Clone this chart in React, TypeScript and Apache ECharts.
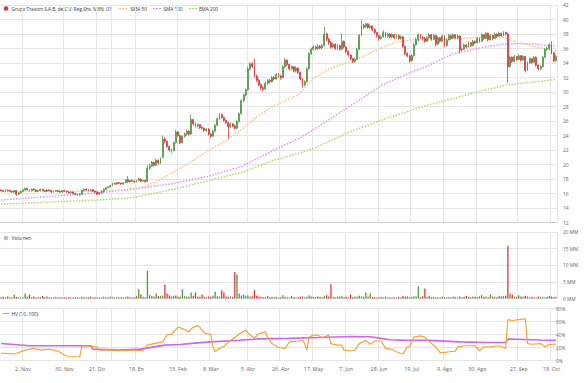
import React, { useEffect, useRef } from "react";
import * as echarts from "echarts";

// ---------- categories (trading days) ----------
const HOLIDAYS = ["2020-11-16", "2020-12-25", "2021-01-01", "2021-02-01", "2021-03-15", "2021-04-01", "2021-04-02", "2021-09-16"];
function buildDays(): string[] {
  const out: string[] = [];
  const d = new Date(Date.UTC(2020, 9, 19));
  const end = Date.UTC(2021, 9, 20);
  while (d.getTime() <= end) {
    const wd = d.getUTCDay();
    const s = d.toISOString().slice(0, 10);
    if (wd !== 0 && wd !== 6 && HOLIDAYS.indexOf(s) < 0) out.push(s);
    d.setUTCDate(d.getUTCDate() + 1);
  }
  return out;
}
const DAYS = buildDays();

const TICK_DATES = ["2020-11-02", "2020-11-30", "2020-12-21", "2021-01-18", "2021-02-15", "2021-03-08", "2021-04-05", "2021-04-26", "2021-05-17", "2021-06-07", "2021-06-28", "2021-07-19", "2021-08-09", "2021-08-30", "2021-09-27", "2021-10-18"];
const TICK_LABELS = ["2. Nov", "30. Nov", "21. Dic", "18. En", "15. Feb", "8. Mar", "5. Abr", "26. Abr", "17. May", "7. Jun", "28. Jun", "19. Jul", "9. Ago", "30. Ago", "27. Sep", "18. Oct"];
const EXTRA_LINES = ["2020-12-31"];

// ---------- price [open, close, low, high] ----------
const OHLC: number[][] = [
  [16.5,16.4,16.3,16.6],[16.4,16.3,16.2,16.5],[16.3,16.5,16.2,16.6],[16.5,16.4,16.3,16.6],[16.4,16.3,16.2,16.5],
  [16.3,16.2,16.1,16.4],[16.2,16.4,16.1,16.5],[16.4,15.9,15.7,16.4],[15.9,16.1,15.8,16.2],[16.1,16.3,16.0,16.4],
  [16.3,16.5,16.2,16.6],[16.5,16.7,16.4,16.8],[16.7,16.5,16.4,16.8],[16.5,16.4,16.3,16.6],[16.4,16.6,16.3,16.7],
  [16.6,16.5,16.4,16.7],[16.5,16.3,16.2,16.6],[16.3,16.4,16.2,16.5],[16.4,16.6,16.3,16.7],[16.6,16.4,16.3,16.6],
  [16.4,16.3,16.2,16.5],[16.3,16.5,16.2,16.6],[16.5,16.4,16.3,16.6],[16.4,16.2,16.1,16.5],[16.2,16.3,16.1,16.4],
  [16.3,16.4,16.2,16.5],[16.4,16.3,16.2,16.5],[16.3,16.2,16.1,16.4],[16.2,16.4,16.1,16.5],[16.4,16.3,16.2,16.5],
  [16.3,16.2,16.1,16.4],[16.2,16.1,16.0,16.3],[16.1,16.2,16.0,16.3],[16.2,16.0,15.9,16.3],[16.0,15.9,15.8,16.1],
  [15.9,15.8,15.7,16.0],[15.8,15.9,15.7,16.0],[15.9,16.4,15.9,16.5],[16.4,16.6,16.3,16.7],[16.6,16.5,16.4,16.7],
  [16.5,16.4,16.3,16.6],[16.4,16.5,16.3,16.6],[16.5,16.3,16.2,16.6],[16.3,16.2,16.1,16.4],[16.2,15.9,15.8,16.3],
  [15.9,16.1,15.8,16.2],[16.1,16.3,16.0,16.4],[16.3,16.6,16.2,16.7],[16.6,16.8,16.5,16.9],[16.8,16.9,16.7,17.0],
  [16.9,17.1,16.8,17.2],[17.1,17.4,17.0,17.5],[17.4,17.3,17.2,17.5],[17.3,17.5,17.2,17.6],[17.5,17.4,17.3,17.6],
  [17.4,17.3,17.2,17.5],[17.3,17.5,17.2,17.6],[17.5,17.9,17.4,18.0],[17.9,17.6,17.5,18.4],[17.6,17.8,17.5,17.9],
  [17.8,17.7,17.6,17.9],[17.7,17.6,17.5,17.8],[17.6,17.8,17.5,17.9],[17.8,18.0,17.7,18.2],[18.0,17.7,17.6,18.1],
  [17.7,17.8,17.6,17.9],[17.8,17.6,17.5,17.9],[17.7,19.5,17.6,19.9],[19.5,19.8,19.3,20.1],[19.8,20.3,19.7,20.5],
  [20.3,19.9,19.7,20.4],[19.9,20.6,19.8,20.8],[20.6,20.2,20.0,20.7],[20.2,20.8,20.1,21.0],[21.0,23.5,20.9,24.0],
  [23.5,23.2,22.9,23.8],[23.2,22.5,22.3,23.3],[22.5,22.0,21.8,22.6],[22.0,21.9,21.6,22.2],[21.9,23.0,21.8,23.2],
  [23.0,24.5,22.9,24.8],[24.5,24.0,23.8,24.6],[24.0,23.0,22.8,24.1],[23.0,23.9,22.9,24.0],[23.9,24.2,23.7,24.4],
  [24.2,24.6,24.0,24.8],[24.6,24.2,24.0,24.7],[24.2,26.2,24.1,26.9],[26.2,25.6,25.4,26.3],[25.6,25.3,25.1,25.8],
  [25.3,25.5,25.1,25.7],[25.5,25.1,24.9,25.6],[25.1,25.0,24.8,25.3],[25.0,24.7,24.5,25.1],[24.7,24.9,24.5,25.0],
  [24.9,24.2,24.0,25.0],[24.2,23.9,23.6,24.3],[23.9,24.6,23.8,24.8],[24.6,25.4,24.5,25.6],[25.4,26.3,25.3,26.5],
  [26.3,26.9,26.1,27.1],[26.9,26.5,26.3,27.0],[26.5,26.1,25.9,26.6],[26.1,25.8,25.6,26.2],[25.8,25.2,23.6,25.9],
  [25.2,25.6,25.0,25.8],[25.6,25.3,25.1,25.7],[25.3,25.0,24.8,25.5],[25.0,25.9,24.9,26.1],[25.9,27.0,25.8,27.2],
  [27.0,28.8,26.9,29.0],[28.8,29.6,28.6,29.8],[29.6,30.3,29.4,30.5],[30.3,33.2,30.2,33.5],[33.2,33.9,33.0,34.1],
  [33.9,33.5,33.3,34.1],[33.5,32.2,32.0,34.6],[32.2,31.6,31.4,32.4],[31.6,31.0,30.8,31.8],[31.0,30.6,30.3,31.2],
  [30.6,30.4,30.1,30.8],[30.4,31.2,30.3,31.4],[31.2,31.6,31.0,31.8],[31.6,31.4,31.2,31.8],[31.4,32.0,31.3,32.2],
  [32.0,31.8,31.6,32.2],[31.8,32.4,31.7,32.6],[32.4,32.2,32.0,32.6],[32.2,32.0,31.7,32.4],[32.0,33.5,31.9,33.7],
  [33.5,34.4,33.3,34.7],[34.4,33.8,33.6,34.5],[33.8,33.2,33.0,33.9],[33.2,33.5,33.0,33.7],[33.5,32.9,32.7,33.6],
  [32.9,33.3,32.7,33.5],[33.3,32.7,32.5,33.4],[32.7,31.8,31.6,32.8],[31.8,31.0,30.6,31.9],[31.0,31.4,30.8,31.6],
  [31.4,33.2,31.3,33.4],[33.2,35.3,33.1,35.5],[35.3,35.9,35.1,36.1],[35.9,36.2,35.7,36.5],[36.2,36.0,35.8,36.4],
  [36.0,36.3,35.8,36.6],[36.3,36.1,35.9,36.5],[36.1,36.4,35.9,36.6],[36.4,38.0,36.3,39.0],[38.0,37.3,37.0,38.2],
  [37.3,36.8,36.5,37.5],[36.8,36.2,36.0,37.0],[36.2,36.6,36.0,36.8],[36.6,36.0,35.8,36.7],[36.0,36.4,35.8,36.6],
  [36.4,35.9,35.7,36.5],[35.9,37.0,35.8,38.1],[37.0,36.2,36.0,37.1],[36.2,35.6,35.4,36.3],[35.6,35.1,34.9,35.7],
  [35.1,34.6,34.4,35.2],[34.6,34.2,34.0,34.7],[34.2,34.5,34.0,34.7],[34.5,35.9,34.4,36.1],[35.9,37.8,35.8,38.0],
  [37.8,39.2,37.7,39.9],[39.2,39.0,38.7,39.4],[39.0,39.4,38.8,39.6],[39.4,38.9,38.7,39.5],[38.9,39.1,38.7,39.3],
  [39.1,38.6,38.4,39.2],[38.6,38.2,38.0,38.8],[38.2,37.8,37.5,38.3],[37.8,37.4,37.1,37.9],[37.4,37.6,37.2,37.8],
  [37.6,38.2,37.5,38.5],[38.2,37.7,37.5,38.3],[37.7,38.0,37.5,38.2],[38.0,37.6,37.4,38.1],[37.6,37.9,37.4,38.1],
  [37.9,37.5,37.3,38.0],[37.5,37.8,37.3,38.0],[37.8,37.4,37.2,37.9],[37.4,37.6,37.2,37.8],[37.6,36.3,36.1,37.7],
  [36.3,35.3,35.1,36.4],[35.3,35.0,34.8,35.5],[35.0,34.3,34.0,35.1],[34.3,35.0,34.2,35.2],[35.0,36.5,34.9,36.7],
  [36.5,37.2,36.4,37.5],[37.2,37.9,37.0,38.1],[37.9,37.5,37.3,38.0],[37.5,37.4,37.1,37.7],[37.4,37.0,36.8,37.6],
  [37.0,37.5,36.9,37.7],[37.5,37.9,37.3,38.1],[37.9,37.3,37.1,38.0],[37.3,37.8,37.2,38.0],[37.8,36.6,36.3,37.9],
  [36.6,37.5,36.5,37.7],[37.5,37.0,36.8,37.6],[37.0,37.7,36.9,37.9],[37.7,36.4,36.2,37.8],[36.4,37.2,36.3,37.4],
  [37.2,37.8,37.1,38.0],[37.8,37.4,37.2,37.9],[37.4,37.9,37.3,38.1],[37.9,37.5,37.3,38.0],[37.5,37.7,37.3,37.9],
  [37.7,35.8,35.3,37.8],[35.8,35.9,35.6,36.1],[35.9,36.5,35.8,36.7],[36.5,36.2,36.0,36.6],[36.2,36.8,36.1,37.0],
  [36.8,36.4,36.2,36.9],[36.4,37.0,36.3,37.2],[37.0,36.8,36.6,37.1],[36.8,37.4,36.7,37.6],[37.4,37.0,36.8,37.5],
  [37.0,37.9,36.9,38.1],[37.9,37.4,37.2,38.0],[37.4,38.1,37.3,38.3],[38.1,37.2,37.0,38.2],[37.2,37.8,37.1,38.0],
  [37.8,37.4,37.2,37.9],[37.4,38.0,37.3,38.2],[38.0,37.7,37.5,38.1],[37.7,38.1,37.6,38.3],[38.1,37.8,37.6,38.2],
  [37.8,38.2,37.7,38.4],[38.2,38.0,37.8,38.3],[38.0,33.5,31.2,38.2],[33.5,34.8,33.4,35.0],[34.8,34.2,34.0,34.9],
  [34.2,34.9,34.1,35.1],[34.9,34.5,34.3,35.0],[34.5,35.0,34.4,35.2],[35.0,34.4,34.2,35.1],[34.4,34.9,34.3,35.1],
  [34.9,33.0,32.7,35.0],[33.0,34.0,32.9,34.2],[34.0,34.6,33.9,34.8],[34.6,34.1,33.9,34.7],[34.1,34.8,34.0,35.0],
  [34.8,33.7,33.5,34.9],[33.7,33.2,33.0,33.8],[33.2,33.5,33.0,33.7],[33.5,34.8,33.4,35.0],[34.8,35.9,34.7,36.1],
  [35.9,36.0,35.7,36.3],[36.0,36.5,35.8,36.7],[36.5,35.4,35.2,37.0],[35.4,34.3,34.1,35.5],[34.3,34.9,34.2,35.1],
];

// ---------- volume (millions) ----------
const VOLUME: number[] = [
  0.4,0.5,0.3,0.6,0.4,0.3,1.2,0.5,0.4,0.3,
  0.4,1.5,0.5,1.2,0.4,0.6,0.3,0.4,0.5,0.8,
  0.4,0.6,0.3,0.4,0.3,0.5,0.3,0.4,0.3,0.4,
  0.3,0.4,0.3,0.3,0.4,0.3,0.3,0.6,0.4,0.3,
  0.4,0.6,0.3,0.4,0.3,0.4,0.3,0.5,0.3,0.4,
  0.5,0.4,0.3,0.4,0.3,0.4,0.3,0.5,0.6,0.4,
  0.3,0.4,0.8,2.8,1.2,0.5,0.4,8.3,1.0,0.8,
  0.6,1.5,0.7,0.8,0.9,4.2,1.5,1.0,0.6,0.8,
  0.9,0.6,0.5,2.8,0.7,0.6,0.5,1.8,0.8,1.8,
  0.6,0.5,1.2,0.5,0.4,0.6,0.5,0.8,2.0,0.7,
  0.6,2.5,1.8,0.6,0.5,0.6,0.5,8.0,7.2,1.5,
  0.9,1.2,0.8,0.9,0.6,0.7,2.5,0.8,0.6,0.5,
  0.4,0.5,0.8,0.4,0.5,0.4,0.5,0.3,0.4,1.0,
  0.5,0.4,0.3,0.8,0.4,0.3,0.4,0.5,0.6,0.4,
  0.5,1.0,0.6,0.5,0.4,0.6,0.5,0.4,0.7,1.0,
  0.6,4.3,0.5,0.4,0.6,0.5,0.8,0.4,0.5,0.3,
  1.2,0.4,0.5,0.6,0.8,0.6,0.5,1.8,0.6,1.5,
  0.5,0.4,0.3,0.4,0.5,0.4,0.5,0.3,0.4,0.3,
  0.4,0.3,0.5,0.4,0.8,0.5,0.6,0.4,0.5,0.7,
  0.6,3.7,0.5,0.6,3.0,0.5,0.8,0.4,0.5,0.3,
  0.4,0.3,0.5,0.4,0.3,0.4,0.3,0.5,0.4,0.3,
  0.6,0.4,0.5,0.8,0.5,0.4,0.6,0.5,0.4,0.6,
  1.0,0.5,0.6,0.4,1.2,0.6,0.5,0.4,0.8,0.6,
  0.7,0.8,15.8,1.5,1.2,0.6,0.5,1.0,0.6,0.5,
  0.8,0.6,0.4,0.5,0.4,0.3,0.6,0.4,0.5,0.4,
  0.5,0.8,0.6,0.4,0.5,
];

// ---------- moving averages [dayIndex, value] ----------
const SMA50: number[][] = [[0,16.25],[20,16.3],[45,16.3],[61,16.7],[64,16.8],[71,17.6],[79,19.0],[87,20.4],[94,21.8],[102,23.1],[110,24.8],[117,26.6],[125,28.1],[128,28.5],[136,29.6],[143,31.9],[151,33.3],[158,34.0],[166,34.9],[174,36.1],[181,36.9],[189,37.2],[194,37.2],[207,37.3],[222,37.6],[230,37.5],[238,36.7],[245,36.25],[254,35.6]];
const SMA100: number[][] = [[0,15.1],[45,16.1],[61,16.6],[79,17.4],[94,18.3],[110,19.7],[117,20.8],[125,22.0],[128,22.4],[137,23.7],[143,24.8],[158,27.7],[174,30.9],[189,32.9],[194,33.4],[207,35.3],[222,36.25],[230,36.6],[238,36.7],[245,36.6],[254,36.3]];
const EMA200: number[][] = [[0,14.55],[45,15.1],[61,15.45],[79,16.6],[94,17.7],[110,18.9],[125,20.6],[137,21.6],[143,22.2],[158,24.3],[174,26.1],[194,28.1],[207,29.1],[222,30.3],[232,31.0],[245,31.4],[254,31.75]];

// ---------- historical volatility [dayIndex, %] ----------
const HV10: number[][] = [[0,11],[2,11],[6,10],[11,16],[15,18.6],[18,16],[22,17.5],[26,14.5],[29,8.4],[31,5.8],[36,5.8],[37,22],[41,22],[44,21],[45,16],[49,16],[54,15],[61,16],[65,15],[67,23.6],[70,26],[74,28.7],[76,40],[78,40],[81,51.5],[83,49],[86,44],[87,49],[90,54],[91,51],[93,42],[96,40],[97,21],[98,13.5],[100,18.7],[102,22],[105,31],[107,35],[109,41],[112,46.5],[114,39],[116,35],[118,41],[121,44],[122,36],[124,26],[127,20],[130,18.6],[132,28.7],[136,29.6],[138,31],[139,26],[140,16],[141,36],[143,39],[145,39],[147,35],[150,39],[151,26],[154,23.6],[156,23.6],[157,16],[160,15],[162,16],[164,26],[167,31],[169,25],[171,30],[174,30],[176,18.6],[179,17],[181,13.5],[183,10.8],[184,10],[186,21],[187,21],[189,36],[192,38],[194,36],[196,28.7],[199,21],[201,12],[203,12],[205,13.5],[208,14.5],[209,21],[212,22.7],[217,22.7],[219,15],[221,21],[224,21],[228,22.7],[231,18.6],[232,63],[234,61.5],[237,63],[240,64],[241,26],[243,25],[247,26],[249,21],[251,24.6],[254,25]];
const HV100: number[][] = [[0,26.2],[13,22.6],[41,22.6],[42,17.5],[54,16],[64,17.5],[70,21],[75,23.6],[82,24.6],[86,26],[96,28.7],[109,31.2],[118,33.2],[132,34],[146,35.3],[160,37],[169,36.5],[174,34],[178,32],[185,31],[196,31],[210,28.7],[222,27.6],[231,27.6],[232,33],[247,31.5],[254,31]];

const VOL_TICKS = [0, 5, 10, 15, 20];

const UP = "#4f9a48";
const DOWN = "#e3343b";
const GRID = "#e6e6e6";
const FONT = "Open Sans";
const C_SMA50 = "#fcc487";
const C_SMA100 = "#e495f6";
const C_EMA200 = "#a9db74";

export default function App() {
  const ref = useRef<HTMLDivElement>(null);
  useEffect(() => {
    if (!ref.current) return;
    const chart = echarts.init(ref.current, undefined, { renderer: "svg" });
    const tickSet = new Set(TICK_DATES);
    const lineSet = new Set([...TICK_DATES, ...EXTRA_LINES]);
    const xAxis = (gridIndex: number, labels: boolean, axisLine: boolean) => ({
      type: "category",
      gridIndex,
      data: DAYS,
      boundaryGap: true,
      axisLine: { show: axisLine, lineStyle: { color: "#cccccc", width: 1 } },
      axisTick: { show: false },
      axisLabel: {
        show: labels,
        interval: (_i: number, v: string) => tickSet.has(v),
        formatter: (v: string) => TICK_LABELS[TICK_DATES.indexOf(v)] || "",
        fontSize: 5.3,
        color: "#666",
        margin: 6,
        fontFamily: FONT,
      },
      splitLine: { show: true, interval: (_i: number, v: string) => lineSet.has(v), lineStyle: { color: GRID, width: 1 } },
    });
    const yBase = { type: "value", position: "right", axisLine: { show: false }, axisTick: { show: false }, splitLine: { lineStyle: { color: GRID, width: 1 } } };
    const volData = VOLUME.map((v, i) => ({ value: v, itemStyle: { color: OHLC[i] && OHLC[i][1] >= OHLC[i][0] ? UP : DOWN } }));

    chart.setOption({
      animation: false,
      textStyle: { fontFamily: FONT },
      grid: [
        { left: 0, right: 31, top: 5, height: 217.5 },
        { left: 0, right: 31, top: 232, height: 66.5 },
        { left: 0, right: 31, top: 308.5, height: 52 },
      ],
      xAxis: [xAxis(0, false, true), xAxis(1, false, false), xAxis(2, true, false)],
      yAxis: [
        { ...yBase, gridIndex: 0, min: 12, max: 42, interval: 2, axisLabel: { fontSize: 4.8, color: "#666", margin: 6 } },
        { ...yBase, gridIndex: 1, min: VOL_TICKS[0], max: VOL_TICKS[4], interval: 5, axisLabel: { fontSize: 4.8, color: "#666", margin: 6, formatter: (v: number) => v + " MM" } },
        { ...yBase, gridIndex: 2, min: 0, max: 80, interval: 20, axisLabel: { fontSize: 4.8, color: "#666", margin: -1, formatter: "{value}%" } },
      ],
      series: [
        { type: "line", xAxisIndex: 0, yAxisIndex: 0, data: EMA200, symbol: "none", lineStyle: { color: C_EMA200, width: 1.5, type: "dotted" }, z: 1 },
        { type: "line", xAxisIndex: 0, yAxisIndex: 0, data: SMA100, symbol: "none", lineStyle: { color: C_SMA100, width: 1.5, type: "dotted" }, z: 1 },
        { type: "line", xAxisIndex: 0, yAxisIndex: 0, data: SMA50, symbol: "none", lineStyle: { color: C_SMA50, width: 1.5, type: "dotted" }, z: 1 },
        {
          type: "candlestick",
          xAxisIndex: 0,
          yAxisIndex: 0,
          data: OHLC,
          barWidth: 1.4,
          z: 2,
          itemStyle: { color: UP, color0: DOWN, borderColor: UP, borderColor0: DOWN, borderWidth: 0.8 },
        },
        { type: "bar", xAxisIndex: 1, yAxisIndex: 1, data: volData, barWidth: 1.3 },
        { type: "line", xAxisIndex: 2, yAxisIndex: 2, data: HV100, symbol: "none", lineStyle: { color: "#cc66ee", width: 1.6 } },
        { type: "line", xAxisIndex: 2, yAxisIndex: 2, data: HV10, symbol: "none", lineStyle: { color: "#f7a43a", width: 1.2 } },
      ],
      graphic: [
        { type: "circle", shape: { cx: 6, cy: 8.5, r: 2.3 }, style: { fill: DOWN } },
        { type: "text", x: 11.5, y: 8.5, style: { text: "Grupo Traxion S.A.B. de C.V. Reg.Shs. MXN ,01", fontSize: 4.7, fontFamily: FONT, fill: "#333", verticalAlign: "middle" } },
        { type: "line", shape: { x1: 119, y1: 8.5, x2: 128, y2: 8.5 }, style: { stroke: C_SMA50, lineWidth: 1.2, lineDash: [2, 1] } },
        { type: "text", x: 130.5, y: 8.5, style: { text: "SMA 50", fontSize: 4.7, fontFamily: FONT, fill: "#333", verticalAlign: "middle" } },
        { type: "line", shape: { x1: 153, y1: 8.5, x2: 162, y2: 8.5 }, style: { stroke: C_SMA100, lineWidth: 1.2, lineDash: [2, 1] } },
        { type: "text", x: 163.5, y: 8.5, style: { text: "SMA 100", fontSize: 4.7, fontFamily: FONT, fill: "#333", verticalAlign: "middle" } },
        { type: "line", shape: { x1: 189, y1: 8.5, x2: 197, y2: 8.5 }, style: { stroke: C_EMA200, lineWidth: 1.2, lineDash: [2, 1] } },
        { type: "text", x: 199, y: 8.5, style: { text: "EMA 200", fontSize: 4.7, fontFamily: FONT, fill: "#333", verticalAlign: "middle" } },
        { type: "circle", shape: { cx: 6, cy: 238, r: 2.3 }, style: { fill: "#bbbbbb" } },
        { type: "text", x: 11.5, y: 238, style: { text: "Volumen", fontSize: 4.8, fontFamily: FONT, fill: "#333", verticalAlign: "middle" } },
        { type: "line", shape: { x1: 2.5, y1: 313.5, x2: 9.5, y2: 313.5 }, style: { stroke: "#f7a43a", lineWidth: 1.2 } },
        { type: "text", x: 11.5, y: 313.5, style: { text: "HV (10, 100)", fontSize: 4.8, fontFamily: FONT, fill: "#333", verticalAlign: "middle" } },
      ],
    });
    return () => chart.dispose();
  }, []);
  return <div ref={ref} style={{ position: "absolute", left: 0, top: 0, width: 588, height: 383, background: "#fff" }} />;
}
